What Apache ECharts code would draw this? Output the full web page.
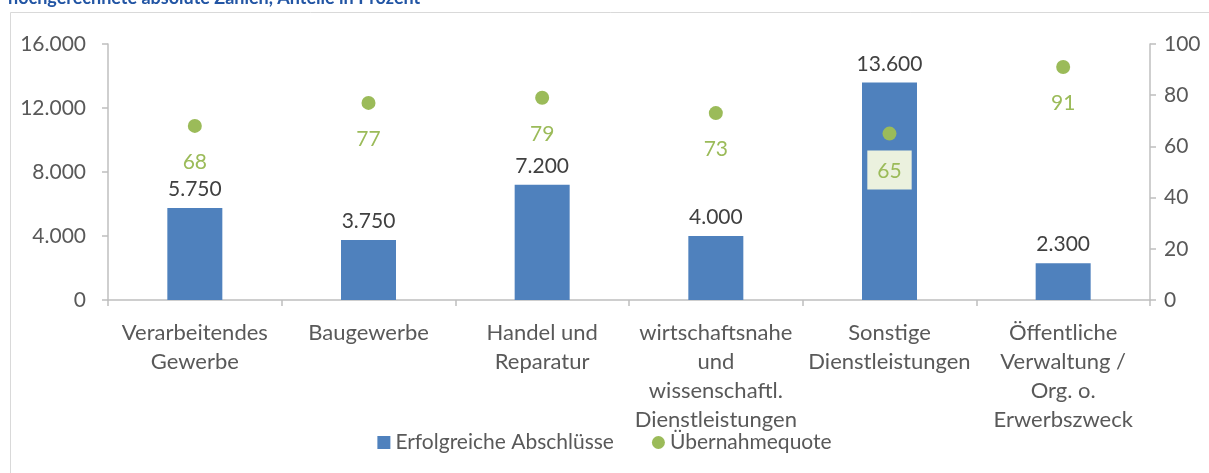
<!DOCTYPE html>
<html>
<head>
<meta charset="utf-8">
<script src="https://cdn.jsdelivr.net/npm/echarts@6/dist/echarts.min.js"></script>
<style>
  html, body { margin: 0; padding: 0; background: #fff; }
  #chart { width: 1209px; height: 473px; }
</style>
</head>
<body>
<div id="chart"></div>
<script>
// Branchen
const categories = [
  'Verarbeitendes\nGewerbe',
  'Baugewerbe',
  'Handel und\nReparatur',
  'wirtschaftsnahe\nund\nwissenschaftl.\nDienstleistungen',
  'Sonstige\nDienstleistungen',
  'Öffentliche\nVerwaltung /\nOrg. o.\nErwerbszweck'
];
// Erfolgreiche Abschlüsse (absolut)
const abschluesse = [5750, 3750, 7200, 4000, 13600, 2300];
// Übernahmequote in Prozent
const quote = [68, 77, 79, 73, 65, 91];

const font = 'Lato, "Open Sans", sans-serif';

function deNum(v) {
  return String(v).replace(/\B(?=(\d{3})+(?!\d))/g, '.');
}

const chart = echarts.init(document.getElementById('chart'), null, { renderer: 'canvas' });

const quoteData = quote.map(function (v, i) {
  const d = { value: v };
  // label inside the tall bar gets a light box
  if (i === 4) {
    d.label = { backgroundColor: '#EBF1DE', padding: [10, 10, 8, 10], distance: 10 };
  }
  return d;
});

const option = {
  backgroundColor: '#ffffff',
  animation: false,
  textStyle: { fontFamily: font },
  graphic: [
    {
      type: 'rect',
      shape: { x: 10.5, y: 12.5, width: 1300, height: 600 },
      style: { fill: 'none', stroke: '#D9D9D9', lineWidth: 1 },
      silent: true
    },
    {
      type: 'text',
      left: 8,
      top: -11,
      style: {
        text: 'hochgerechnete absolute Zahlen, Anteile in Prozent',
        fill: '#2255A4',
        font: 'bold 18px ' + font
      }
    }
  ],
  grid: { left: 108, right: 59, top: 44, bottom: 173 },
  legend: {
    bottom: 15,
    left: 'center',
    itemGap: 38,
    itemWidth: 13,
    itemHeight: 13,
    textStyle: { color: '#595959', fontSize: 21, fontFamily: font },
    data: [
      { name: 'Erfolgreiche Abschlüsse', icon: 'rect' },
      { name: 'Übernahmequote', icon: 'circle' }
    ]
  },
  xAxis: {
    type: 'category',
    data: categories,
    axisLine: { lineStyle: { color: '#BFBFBF', width: 1.5 } },
    axisTick: { show: true, length: 6, alignWithLabel: false, lineStyle: { color: '#BFBFBF', width: 1.5 } },
    axisLabel: {
      color: '#595959',
      fontSize: 22,
      lineHeight: 29,
      margin: 18,
      interval: 0,
      fontFamily: font
    }
  },
  yAxis: [
    {
      type: 'value',
      min: 0,
      max: 16000,
      interval: 4000,
      splitLine: { show: false },
      axisLine: { show: true, lineStyle: { color: '#BFBFBF', width: 1.5 } },
      axisTick: { show: true, length: 6, lineStyle: { color: '#BFBFBF', width: 1.5 } },
      axisLabel: { color: '#595959', fontSize: 21, margin: 22, formatter: deNum, fontFamily: font }
    },
    {
      type: 'value',
      min: 0,
      max: 100,
      interval: 20,
      splitLine: { show: false },
      axisLine: { show: true, lineStyle: { color: '#BFBFBF', width: 1.5 } },
      axisTick: { show: true, length: 6, lineStyle: { color: '#BFBFBF', width: 1.5 } },
      axisLabel: { color: '#595959', fontSize: 21, margin: 14, fontFamily: font }
    }
  ],
  series: [
    {
      name: 'Erfolgreiche Abschlüsse',
      type: 'bar',
      yAxisIndex: 0,
      data: abschluesse,
      barWidth: 55,
      itemStyle: { color: '#4F81BD' },
      label: {
        show: true,
        position: 'top',
        distance: 8,
        color: '#404040',
        fontSize: 21,
        fontFamily: font,
        formatter: function (p) { return deNum(p.value); }
      }
    },
    {
      name: 'Übernahmequote',
      type: 'scatter',
      yAxisIndex: 1,
      data: quoteData,
      symbol: 'circle',
      symbolSize: 14,
      itemStyle: { color: '#9BBB59', opacity: 1 },
      label: {
        show: true,
        position: 'bottom',
        distance: 19,
        color: '#9BBB59',
        opacity: 1,
        fontSize: 21,
        fontFamily: font
      }
    }
  ]
};

chart.setOption(option);
</script>
</body>
</html>
